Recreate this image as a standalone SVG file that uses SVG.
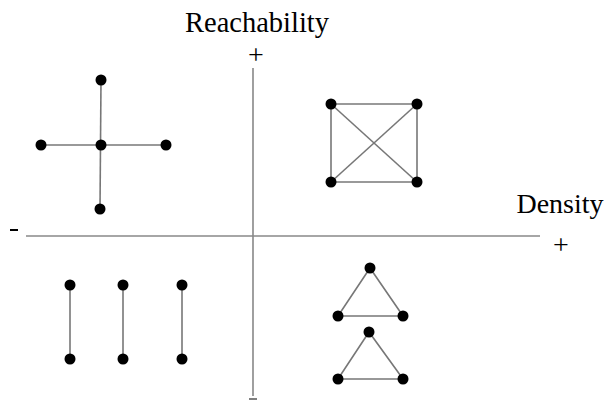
<svg xmlns="http://www.w3.org/2000/svg" width="606" height="401" viewBox="0 0 606 401">
<style>
.e{stroke:#777;stroke-width:1.6;fill:none}
.ax{stroke:#888;stroke-width:1.6;fill:none}
.n{fill:#000}
.t{font-family:"Liberation Serif",serif;fill:#000}
</style>
<rect width="606" height="401" fill="#fff"/>
<g id="axes">
<line class="ax" x1="26" y1="236" x2="540" y2="236"/>
<line class="ax" x1="253" y1="68" x2="253" y2="396"/>
<line x1="249" y1="399" x2="257" y2="399" stroke="#555" stroke-width="1.5"/>
<text class="t" x="257" y="32" font-size="28.5" text-anchor="middle">Reachability</text>
<text class="t" x="256" y="64" font-size="28" text-anchor="middle">+</text>
<text class="t" x="560" y="213" font-size="28" text-anchor="middle">Density</text>
<text class="t" x="561" y="254" font-size="28" text-anchor="middle">+</text>
<line x1="10" y1="230" x2="18" y2="230" stroke="#000" stroke-width="2"/>
</g>
<g id="connectors">
<line class="e" x1="101" y1="80" x2="100" y2="209"/>
<line class="e" x1="41" y1="145" x2="166" y2="145"/>
<line class="e" x1="331" y1="104" x2="417" y2="104"/>
<line class="e" x1="331" y1="182" x2="417" y2="182"/>
<line class="e" x1="331" y1="104" x2="331" y2="182"/>
<line class="e" x1="417" y1="104" x2="417" y2="182"/>
<line class="e" x1="331" y1="104" x2="417" y2="182"/>
<line class="e" x1="417" y1="104" x2="331" y2="182"/>
<polygon class="e" points="370,268 338,316 403,316"/>
<polygon class="e" points="369,332 338,379 403,379"/>
<line class="e" x1="70" y1="285" x2="70" y2="359"/>
<line class="e" x1="123" y1="285" x2="123" y2="359"/>
<line class="e" x1="182" y1="285" x2="182" y2="359"/>
</g>
<g id="star">
<circle class="n" cx="101" cy="80" r="5.5"/>
<circle class="n" cx="101" cy="145" r="5.5"/>
<circle class="n" cx="41" cy="145" r="5.5"/>
<circle class="n" cx="166" cy="145" r="5.5"/>
<circle class="n" cx="100" cy="209" r="5.5"/>
</g>
<g id="complete">
<circle class="n" cx="331" cy="104" r="5.5"/>
<circle class="n" cx="417" cy="104" r="5.5"/>
<circle class="n" cx="331" cy="182" r="5.5"/>
<circle class="n" cx="417" cy="182" r="5.5"/>
</g>
<g id="triangle1">
<circle class="n" cx="370" cy="268" r="5.5"/>
<circle class="n" cx="338" cy="316" r="5.5"/>
<circle class="n" cx="403" cy="316" r="5.5"/>
</g>
<g id="triangle2">
<circle class="n" cx="369" cy="332" r="5.5"/>
<circle class="n" cx="338" cy="379" r="5.5"/>
<circle class="n" cx="403" cy="379" r="5.5"/>
</g>
<g id="pairs">
<circle class="n" cx="70" cy="285" r="5.5"/>
<circle class="n" cx="70" cy="359" r="5.5"/>
<circle class="n" cx="123" cy="285" r="5.5"/>
<circle class="n" cx="123" cy="359" r="5.5"/>
<circle class="n" cx="182" cy="285" r="5.5"/>
<circle class="n" cx="182" cy="359" r="5.5"/>
</g>
</svg>
